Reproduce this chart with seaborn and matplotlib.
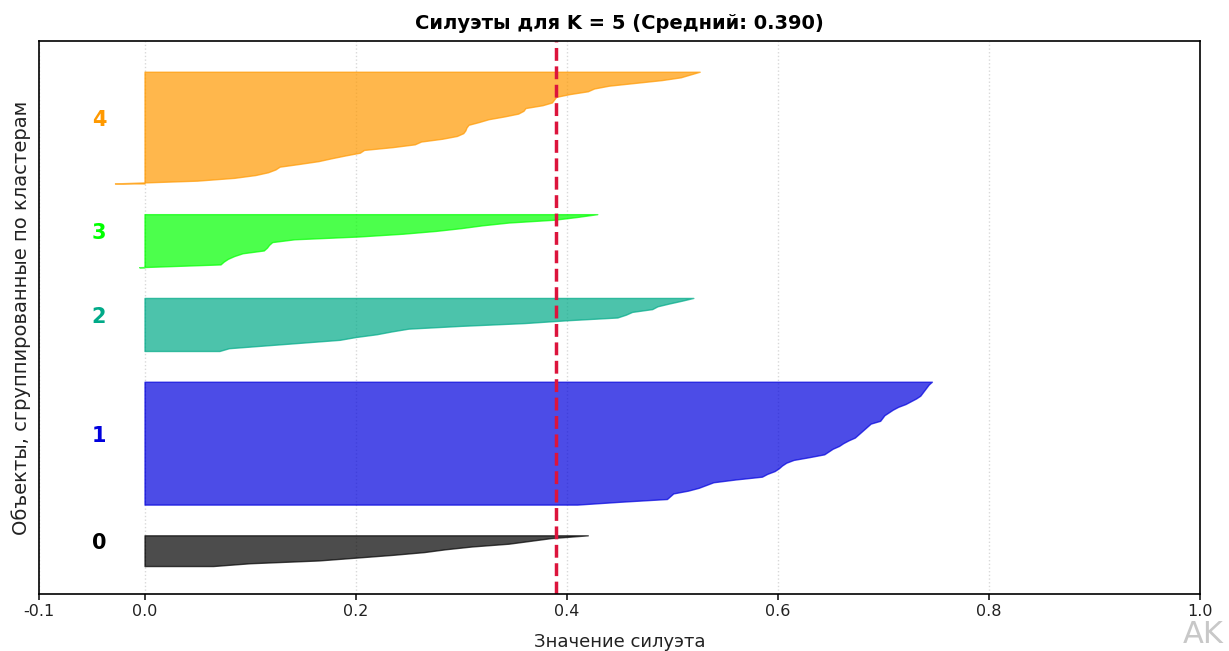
import matplotlib
matplotlib.use("Agg")
import matplotlib.pyplot as plt
import matplotlib.cm as cm
import numpy as np
import seaborn as sns

# --- data: silhouette values per cluster, sorted ascending (bottom -> top) ---
cluster_ids = [0, 1, 2, 3, 4]
sil_0 = [0.065, 0.10, 0.165, 0.20, 0.235, 0.265, 0.285, 0.31, 0.345, 0.365, 0.385, 0.42]
sil_1 = [0.41, 0.45, 0.495, 0.498, 0.501, 0.515, 0.525, 0.532, 0.539, 0.56,
         0.585, 0.59, 0.597, 0.601, 0.604, 0.608, 0.615, 0.63, 0.644, 0.648,
         0.652, 0.658, 0.662, 0.667, 0.673, 0.676, 0.679, 0.682, 0.685, 0.688,
         0.697, 0.699, 0.701, 0.705, 0.709, 0.714, 0.721, 0.726, 0.731, 0.735,
         0.737, 0.739, 0.741, 0.743, 0.746]
sil_2 = [0.071, 0.08, 0.115, 0.15, 0.185, 0.20, 0.22, 0.234, 0.25, 0.30,
         0.36, 0.40, 0.448, 0.456, 0.462, 0.481, 0.486, 0.497, 0.509, 0.52]
sil_3 = [-0.005, 0.072, 0.075, 0.079, 0.085, 0.093, 0.113, 0.116, 0.118, 0.121,
         0.142, 0.203, 0.245, 0.276, 0.30, 0.32, 0.345, 0.388, 0.41, 0.429]
sil_4 = [-0.028, 0.05, 0.085, 0.105, 0.117, 0.124, 0.128, 0.147, 0.165, 0.177,
         0.19, 0.204, 0.208, 0.235, 0.256, 0.262, 0.282, 0.296, 0.302, 0.304,
         0.305, 0.307, 0.317, 0.326, 0.341, 0.354, 0.359, 0.361, 0.377, 0.386,
         0.388, 0.39, 0.403, 0.42, 0.426, 0.44, 0.465, 0.49, 0.508, 0.517, 0.526]
silhouettes = [sil_0, sil_1, sil_2, sil_3, sil_4]
avg_score = 0.390
x_ticks = [-0.1, 0.0, 0.2, 0.4, 0.6, 0.8, 1.0]

n_clusters = len(cluster_ids)
n_samples = sum(len(s) for s in silhouettes)

# --- style ---
sns.set_theme(style="white")
plt.rcParams.update({
    'font.family': ['DejaVu Sans'],
    'axes.edgecolor': 'black',
    'axes.linewidth': 1.2,
    'axes.labelcolor': '#222222',
    'text.color': 'black',
    'xtick.bottom': True,
    'xtick.color': '#222222',
    'xtick.major.size': 4,
})

fig = plt.figure(figsize=(12.29, 6.51), dpi=100)
ax = fig.add_axes([0.0317, 0.0876, 0.9447, 0.8494])

y_lower = 10
for i, vals in zip(cluster_ids, silhouettes):
    vals = np.sort(np.asarray(vals))
    size = len(vals)
    y_upper = y_lower + size
    color = cm.nipy_spectral(float(i) / n_clusters)
    ax.fill_betweenx(np.arange(y_lower, y_upper), 0, vals,
                     facecolor=color, edgecolor=color, alpha=0.7)
    ax.text(-0.05, y_lower + 0.5 * size, str(i), color=color,
            fontsize=15, fontweight='bold', ha='left')
    y_lower = y_upper + 10

ax.axvline(x=avg_score, color='crimson', linestyle='--', linewidth=2.5)

ax.set_xlim(-0.1, 1.0)
ax.set_ylim(0, n_samples + (n_clusters + 1) * 10)
ax.set_xticks(x_ticks)
ax.set_xticklabels([f"{t:.1f}" for t in x_ticks])
ax.set_yticks([])
ax.tick_params(axis='x', labelsize=11.5)
ax.grid(axis='x', linestyle=':', color='gray', alpha=0.3)

ax.set_title(f"Силуэты для K = {n_clusters} (Средний: {avg_score:.3f})",
             fontsize=14, fontweight='bold', pad=9, color='black')
ax.set_xlabel("Значение силуэта", fontsize=13, labelpad=10)
ax.set_ylabel("Объекты, сгруппированные по кластерам", fontsize=14, labelpad=6)

fig.text(0.962, 0.012, "AK", fontsize=22, color='#c8c8c8')

fig.savefig("out.png", dpi=100)
